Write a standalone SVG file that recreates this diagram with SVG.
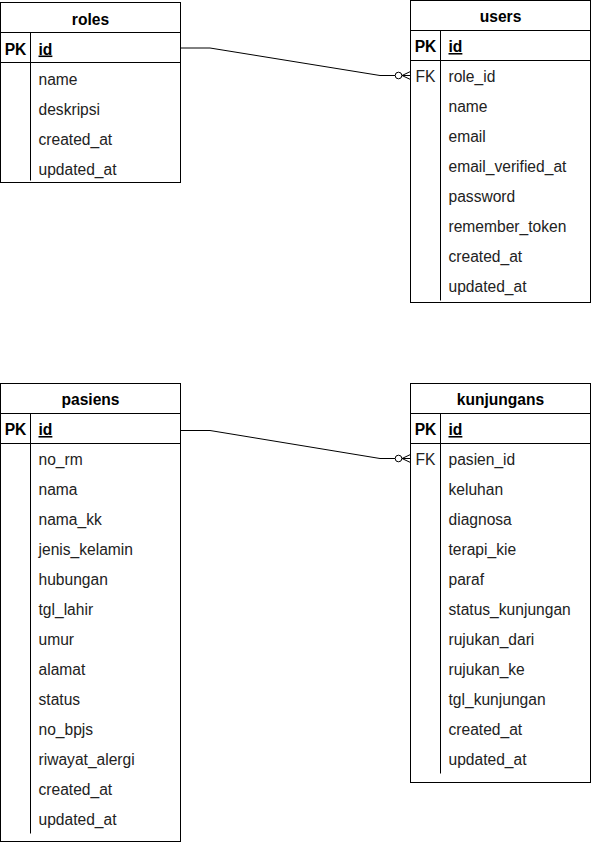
<svg xmlns="http://www.w3.org/2000/svg" width="592" height="845" viewBox="0 0 592 845">
<style>
.box{fill:#fff;stroke:#000;stroke-width:1}
.ln{stroke:#000;stroke-width:1;fill:none}
text{font-family:"Liberation Sans",Arial,sans-serif;font-size:15.6px}
.t{fill:#000;font-weight:bold;text-anchor:middle}
.k{fill:#000;font-weight:bold;text-anchor:middle}
.kr{fill:#222;text-anchor:middle}
.pk{fill:#000;font-weight:bold;text-decoration:underline}
.f{fill:#222}
.c{stroke:#000;stroke-width:1;fill:none}
</style>
<g id="roles" transform="translate(0,1.5)">
<rect class="box" x="0.5" y="1" width="180" height="180"/>
<line class="ln" x1="0.5" y1="31" x2="180.5" y2="31"/>
<line class="ln" x1="0.5" y1="61" x2="180.5" y2="61"/>
<line class="ln" x1="30.5" y1="31" x2="30.5" y2="179"/>
<text class="t" x="90.5" y="23">roles</text>
<text class="k" x="15.5" y="53">PK</text>
<text class="pk" x="38.5" y="53">id</text>
<text class="f" x="38.5" y="83">name</text>
<text class="f" x="38.5" y="113">deskripsi</text>
<text class="f" x="38.5" y="143">created_at</text>
<text class="f" x="38.5" y="173">updated_at</text>
</g>
<g id="users">
<rect class="box" x="410.5" y="0.5" width="180" height="302"/>
<line class="ln" x1="410.5" y1="30.5" x2="590.5" y2="30.5"/>
<line class="ln" x1="410.5" y1="60.5" x2="590.5" y2="60.5"/>
<line class="ln" x1="440.5" y1="30.5" x2="440.5" y2="300.5"/>
<text class="t" x="500.5" y="22">users</text>
<text class="k" x="425.5" y="52">PK</text>
<text class="pk" x="448.5" y="52">id</text>
<text class="kr" x="425.5" y="82">FK</text>
<text class="f" x="448.5" y="82">role_id</text>
<text class="f" x="448.5" y="112">name</text>
<text class="f" x="448.5" y="142">email</text>
<text class="f" x="448.5" y="172">email_verified_at</text>
<text class="f" x="448.5" y="202">password</text>
<text class="f" x="448.5" y="232">remember_token</text>
<text class="f" x="448.5" y="262">created_at</text>
<text class="f" x="448.5" y="292">updated_at</text>
</g>
<g id="pasiens">
<rect class="box" x="0.5" y="383.5" width="180" height="458"/>
<line class="ln" x1="0.5" y1="413.5" x2="180.5" y2="413.5"/>
<line class="ln" x1="0.5" y1="443.5" x2="180.5" y2="443.5"/>
<line class="ln" x1="30.5" y1="413.5" x2="30.5" y2="833.5"/>
<text class="t" x="90.5" y="405">pasiens</text>
<text class="k" x="15.5" y="435">PK</text>
<text class="pk" x="38.5" y="435">id</text>
<text class="f" x="38.5" y="465">no_rm</text>
<text class="f" x="38.5" y="495">nama</text>
<text class="f" x="38.5" y="525">nama_kk</text>
<text class="f" x="38.5" y="555">jenis_kelamin</text>
<text class="f" x="38.5" y="585">hubungan</text>
<text class="f" x="38.5" y="615">tgl_lahir</text>
<text class="f" x="38.5" y="645">umur</text>
<text class="f" x="38.5" y="675">alamat</text>
<text class="f" x="38.5" y="705">status</text>
<text class="f" x="38.5" y="735">no_bpjs</text>
<text class="f" x="38.5" y="765">riwayat_alergi</text>
<text class="f" x="38.5" y="795">created_at</text>
<text class="f" x="38.5" y="825">updated_at</text>
</g>
<g id="kunjungans">
<rect class="box" x="410.5" y="383.5" width="180" height="399"/>
<line class="ln" x1="410.5" y1="413.5" x2="590.5" y2="413.5"/>
<line class="ln" x1="410.5" y1="443.5" x2="590.5" y2="443.5"/>
<line class="ln" x1="440.5" y1="413.5" x2="440.5" y2="773.5"/>
<text class="t" x="500.5" y="405">kunjungans</text>
<text class="k" x="425.5" y="435">PK</text>
<text class="pk" x="448.5" y="435">id</text>
<text class="kr" x="425.5" y="465">FK</text>
<text class="f" x="448.5" y="465">pasien_id</text>
<text class="f" x="448.5" y="495">keluhan</text>
<text class="f" x="448.5" y="525">diagnosa</text>
<text class="f" x="448.5" y="555">terapi_kie</text>
<text class="f" x="448.5" y="585">paraf</text>
<text class="f" x="448.5" y="615">status_kunjungan</text>
<text class="f" x="448.5" y="645">rujukan_dari</text>
<text class="f" x="448.5" y="675">rujukan_ke</text>
<text class="f" x="448.5" y="705">tgl_kunjungan</text>
<text class="f" x="448.5" y="735">created_at</text>
<text class="f" x="448.5" y="765">updated_at</text>
</g>
<g id="connectors">
<g id="roles-users">
<polyline class="c" points="180.5,48 210,48 380,75.5 395,75.5"/>
<circle class="c" cx="398.5" cy="75.5" r="3.3"/>
<path class="c" d="M402,75.5 L410.5,75.5 M402,75.5 L410.5,71.5 M402,75.5 L410.5,79.5"/>
</g>
<g id="pasiens-kunjungans">
<polyline class="c" points="180.5,430.5 210,430.5 380,458.5 395,458.5"/>
<circle class="c" cx="398.5" cy="458.5" r="3.3"/>
<path class="c" d="M402,458.5 L410.5,458.5 M402,458.5 L410.5,454.5 M402,458.5 L410.5,462.5"/>
</g>
</g>
</svg>
